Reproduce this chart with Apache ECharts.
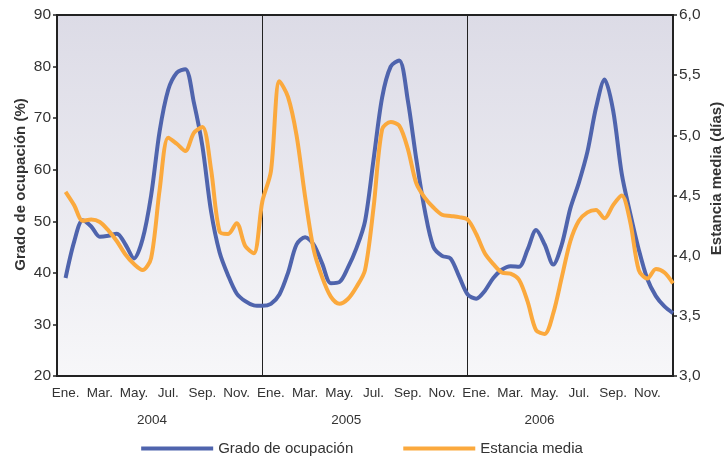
<!DOCTYPE html>
<html>
<head>
<meta charset="utf-8">
<script src="https://cdn.jsdelivr.net/npm/echarts@6/dist/echarts.min.js"></script>
<style>html,body{margin:0;padding:0;background:#fff}#c{width:724px;height:464px}</style>
</head>
<body>
<div id="c"></div>
<script>
// Month tick labels (every other month) and year labels
const monthLabels = ['Ene.', 'Mar.', 'May.', 'Jul.', 'Sep.', 'Nov.'];
const years = ['2004', '2005', '2006'];
// Year label positions in months from Jan 2004 (as placed in the source chart)
const yearLabelPos = [5.55, 16.9, 28.2];

// Sampled every half month, starting at mid-January 2004
const startMonth = 0.5;
const stepMonth = 0.5;

// Grado de ocupación (%)
const ocupacion = [
  39, 46, 50.2, 49, 47, 47.2, 47.6, 45.5, 42.8, 46.5, 55, 67.5, 75.5, 78.8, 79.5, 73,
  64.5, 52, 44, 39.5, 36, 34.5, 33.7, 33.6,
  34, 35.8, 40, 45.5, 46.9, 45.5, 41.8, 38, 38.2, 41, 44.8, 50, 62, 74, 80, 81.2,
  73.5, 62, 52, 45, 43.3, 42.8, 39.3, 35.8,
  35, 36.5, 39, 40.6, 41.3, 41.2, 44.5, 48.3, 45.5, 41.6, 45.5, 52.5, 57.5, 63.5, 72, 77.5,
  71.5, 59.3, 51.5, 44.5, 38.8, 35.5, 33.5, 32.2
];

// Estancia media (días)
const estancia = [
  4.53, 4.42, 4.29, 4.30, 4.28, 4.21, 4.12, 4.01, 3.93, 3.88, 3.98, 4.55, 4.98, 4.93, 4.87, 5.02,
  5.07, 4.72, 4.20, 4.18, 4.27, 4.08, 4.02, 4.45,
  4.70, 5.45, 5.32, 5.00, 4.49, 4.05, 3.82, 3.66, 3.60, 3.64, 3.74, 3.88, 4.40, 5.05, 5.11, 5.08,
  4.89, 4.60, 4.48, 4.40, 4.34, 4.33, 4.32, 4.30,
  4.18, 4.02, 3.93, 3.86, 3.85, 3.80, 3.62, 3.38, 3.35, 3.52, 3.82, 4.12, 4.29, 4.36, 4.38, 4.31,
  4.42, 4.50, 4.28, 3.88, 3.81, 3.89, 3.86, 3.77
];

const pairs = arr => arr.map((v, i) => [startMonth + i * stepMonth, v]);

const textColor = '#333333';
const font = 'Liberation Sans, Arial, Helvetica, sans-serif';

const chart = echarts.init(document.getElementById('c'), null, {renderer: 'canvas'});
chart.setOption({
  animation: false,
  backgroundColor: '#ffffff',
  textStyle: {fontFamily: font, color: textColor},
  grid: {
    left: 57, right: 51, top: 15, bottom: 88,
    containLabel: false,
    outerBoundsMode: 'none',
    show: true,
    borderColor: '#222222',
    borderWidth: 2,
    backgroundColor: new echarts.graphic.LinearGradient(0, 0, 0, 1, [
      {offset: 0, color: '#dcdbe6'},
      {offset: 1, color: '#f7f7f9'}
    ])
  },
  legend: {
    bottom: 3,
    left: 'center',
    icon: 'rect',
    itemWidth: 72,
    itemHeight: 4,
    itemGap: 50,
    textStyle: {fontSize: 15, color: textColor, fontFamily: font},
    data: ['Grado de ocupación', 'Estancia media']
  },
  xAxis: [
    {
      type: 'value', min: 0, max: 36,
      position: 'bottom',
      axisLine: {show: true, onZero: false, lineStyle: {color: '#222222', width: 2}},
      axisTick: {show: false},
      splitLine: {show: false},
      axisLabel: {
        customValues: [0.5, 2.5, 4.5, 6.5, 8.5, 10.5, 12.5, 14.5, 16.5, 18.5, 20.5, 22.5, 24.5, 26.5, 28.5, 30.5, 32.5, 34.5],
        formatter: v => monthLabels[Math.floor((Math.floor(v) % 12) / 2)],
        fontSize: 13.5, color: textColor, margin: 10, fontFamily: font
      }
    },
    {
      type: 'value', min: 0, max: 36,
      position: 'bottom',
      axisLine: {show: false, onZero: false},
      axisTick: {show: false},
      splitLine: {show: false},
      axisLabel: {
        customValues: yearLabelPos,
        formatter: v => years[Math.floor(v / 12)],
        fontSize: 13.5, color: textColor, margin: 37, fontFamily: font
      }
    }
  ],
  yAxis: [
    {
      type: 'value', min: 20, max: 90, interval: 10,
      position: 'left',
      name: 'Grado de ocupación (%)',
      nameLocation: 'middle', nameRotate: 90, nameGap: 29,
      nameMoveOverlap: false,
      nameTextStyle: {fontSize: 15, fontWeight: 'bold', color: textColor, fontFamily: font, padding: [0, 0, 0, 22]},
      axisLine: {show: true, onZero: false, lineStyle: {color: '#222222', width: 2}},
      axisTick: {show: true, inside: false, length: 4, lineStyle: {color: '#222222', width: 1.5}},
      splitLine: {show: false},
      axisLabel: {fontSize: 15.5, color: textColor, margin: 6, fontFamily: font}
    },
    {
      type: 'value', min: 3, max: 6, interval: 0.5,
      position: 'right',
      name: 'Estancia media (días)',
      nameLocation: 'middle', nameRotate: 90, nameGap: 36,
      nameMoveOverlap: false,
      nameTextStyle: {fontSize: 15, fontWeight: 'bold', color: textColor, fontFamily: font, padding: [0, 0, 0, 34]},
      axisLine: {show: true, onZero: false, lineStyle: {color: '#222222', width: 2}},
      axisTick: {show: true, inside: false, length: 4, lineStyle: {color: '#222222', width: 1.5}},
      splitLine: {show: false},
      axisLabel: {
        fontSize: 15.5, color: textColor, margin: 6, fontFamily: font,
        formatter: v => v.toFixed(1).replace('.', ',')
      }
    }
  ],
  series: [
    {
      name: 'Grado de ocupación',
      type: 'line',
      xAxisIndex: 0, yAxisIndex: 0,
      data: pairs(ocupacion),
      smooth: 0.3,
      showSymbol: false,
      lineStyle: {color: '#4f64ad', width: 4},
      itemStyle: {color: '#4f64ad'},
      z: 3,
      markLine: {
        silent: true,
        symbol: ['none', 'none'],
        label: {show: false},
        lineStyle: {color: '#222222', width: 1, type: 'solid'},
        data: [{xAxis: 12}, {xAxis: 24}],
        z: 1
      }
    },
    {
      name: 'Estancia media',
      type: 'line',
      xAxisIndex: 0, yAxisIndex: 1,
      data: pairs(estancia),
      smooth: 0.3,
      showSymbol: false,
      lineStyle: {color: '#fba93d', width: 4},
      itemStyle: {color: '#fba93d'},
      z: 4
    }
  ]
});
</script>
</body>
</html>
